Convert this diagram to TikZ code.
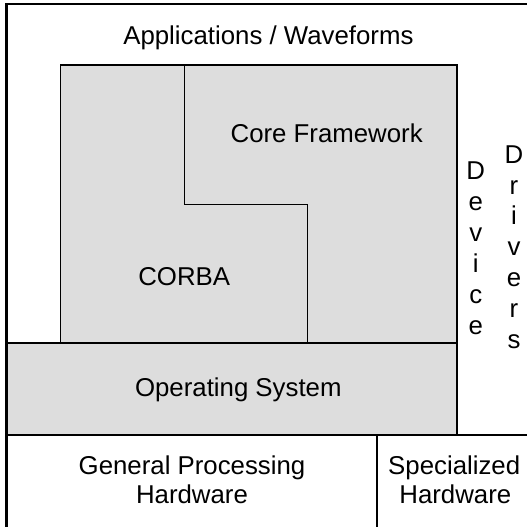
\documentclass[tikz,border=0pt]{standalone}
\usepackage{fontspec}
\setmainfont{Liberation Sans}
\definecolor{boxgray}{RGB}{221,221,221}
\begin{document}
\begin{tikzpicture}[x=1pt,y=-1pt,
  lbl/.style={inner sep=0pt, anchor=base, font=\fontsize{25.8}{31}\selectfont},
  thin line/.style={line width=1.5pt, line join=miter},
  thick line/.style={line width=2.4pt}]
\useasboundingbox (0,0) rectangle (527,527);
\begin{scope}
\clip (0,0) rectangle (527,527);
% gray regions
\fill[boxgray] (60.5,65) rectangle (457,343);
\fill[boxgray] (6.5,343) rectangle (457,435);
% inner lines
\draw[thin line] (60.5,343) -- (60.5,65) -- (457,65) -- (457,435);
\draw[thin line] (184.5,65) -- (184.5,204.5) -- (307.5,204.5) -- (307.5,343);
\draw[thin line] (6.5,343) -- (457,343);
\draw[thin line] (6.5,435) -- (530,435);
\draw[thin line] (377,435) -- (377,530);
% outer frame
\draw[thick line] (6.5,4) rectangle (528,528);
\end{scope}
% labels
\node[lbl] (apps) at (268.4,44.3) {Applications / Waveforms};
\node[lbl] (cf) at (326.7,142.3) {Core Framework};
\node[lbl] (corba) at (184.2,285) {CORBA};
\node[lbl] (os) at (238.3,396) {Operating System};
\node[lbl] (gph1) at (192,474) {General Processing};
\node[lbl] (gph2) at (192,503.5) {Hardware};
\node[lbl] (sh1) at (454.2,474) {Specialized};
\node[lbl] (sh2) at (455.3,503.5) {Hardware};
\foreach \l [count=\i] in {D,e,v,i,c,e}
  \node[lbl] (dev\i) at (475.7,179.3+31.1*\i-31.1) {\l};
\foreach \l [count=\i] in {D,r,i,v,e,r,s}
  \node[lbl] (drv\i) at (514,163.3+30.8*\i-30.8) {\l};
\end{tikzpicture}
\end{document}
